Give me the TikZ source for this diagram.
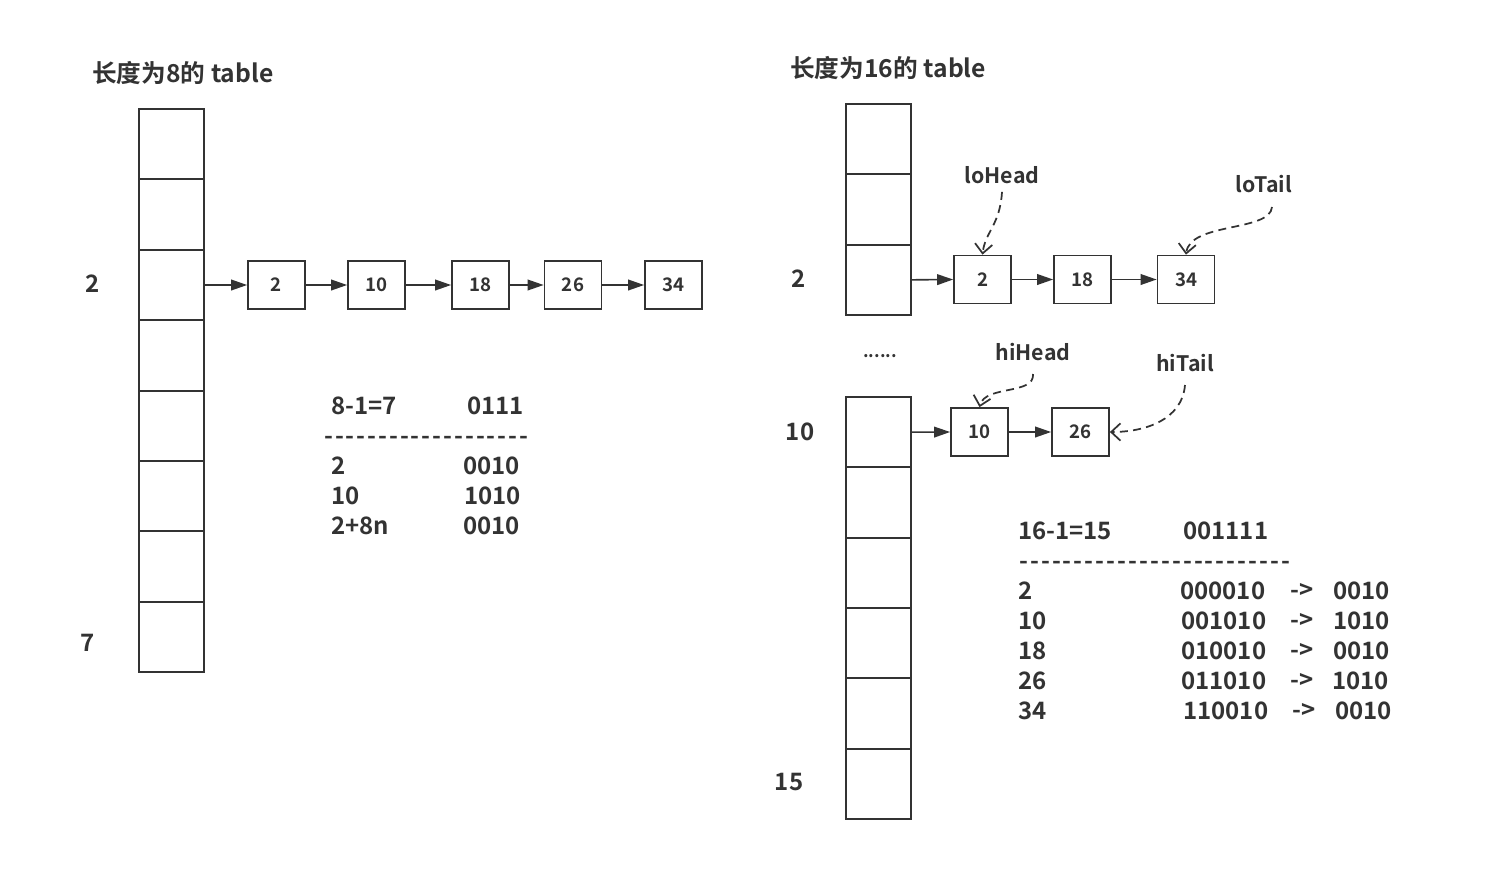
\documentclass[tikz,border=0pt]{standalone}
\usepackage{fontspec}
\setmainfont{Noto Sans CJK SC}[BoldFont={Noto Sans CJK SC Bold}]
\usetikzlibrary{arrows.meta}
\definecolor{ink}{HTML}{333333}
\newcommand\hyrule[2]{\hbox to #1{\cleaders\hbox to #2{\hss-\hss}\hfil}}
\begin{document}
\begin{tikzpicture}[x=0.75pt,y=-0.75pt,
  every node/.style={text=ink,font=\bfseries},
  cell/.style={draw=ink,line width=1.4pt,minimum width=48.75pt,minimum height=52.8pt,inner sep=0pt},
  item/.style={draw=ink,line width=1.3pt,minimum width=42.75pt,minimum height=36pt,inner sep=0pt,font=\bfseries\fontsize{14}{16}\selectfont},
  link/.style={draw=ink,line width=1.2pt,-{Triangle[length=12pt,width=8pt]}},
  ptr/.style={draw=ink,line width=1.3pt,dash pattern=on 6pt off 4pt,-{Straight Barb[length=7pt,width=13pt]}},
  lbl/.style={inner sep=0pt,font=\bfseries\fontsize{18}{22}\selectfont},
  txt/.style={anchor=west,inner sep=0pt,font=\bfseries\fontsize{18}{22}\selectfont},
  ttl/.style={anchor=west,inner sep=0pt,font=\bfseries\fontsize{18.5}{22}\selectfont},
  ann/.style={inner sep=0pt,font=\bfseries\fontsize{16}{19}\selectfont}]
\useasboundingbox (0,0) rectangle (1498,882);
\fill[white] (0,0) rectangle (1498,882);

% ---------- left: table of length 8 ----------
\node[ttl] (t8) at (92,73) {长度为8的 table};
\foreach \i in {0,...,7}{
  \node[cell] (L\i) at (171.5,{109+70.4*(\i+0.5)}) {};
}
\node[lbl] (l2) at (93,284) {2};
\node[lbl] (l7) at (88,643) {7};

\node[item] (a2)  at (276.5,285) {2};
\node[item] (a10) at (376.5,285) {10};
\node[item] (a18) at (480.5,285) {18};
\node[item] (a26) at (573,285) {26};
\node[item] (a34) at (673.5,285) {34};
\draw[link] (L2.east) -- (a2.west);
\draw[link] (a2.east) -- (a10.west);
\draw[link] (a10.east) -- (a18.west);
\draw[link] (a18.east) -- (a26.west);
\draw[link] (a26.east) -- (a34.west);

\node[txt] (m1) at (331,406) {8-1=7};
\node[txt] (m2) at (467,406) {0111};
\node[txt] (m3) at (323,440) {\hyrule{154.5pt}{8.13pt}};
\node[txt] (r1a) at (331,466) {2};
\node[txt] (r1b) at (463,466) {0010};
\node[txt] (r2a) at (331,496) {10};
\node[txt] (r2b) at (464,496) {1010};
\node[txt] (r3a) at (331,526) {2+8n};
\node[txt] (r3b) at (463,526) {0010};

% ---------- right: table of length 16 ----------
\node[ttl] (t16) at (790,68) {长度为16的 table};
\foreach \i in {0,1,2}{
  \node[cell,minimum height=52.75pt] (R\i) at (878.5,{104+70.33*(\i+0.5)}) {};
}
\foreach \i in {0,...,5}{
  \node[cell,minimum height=52.75pt] (S\i) at (878.5,{397+70.33*(\i+0.5)}) {};
}
\node[inner sep=0pt,font=\bfseries\fontsize{13}{15}\selectfont] (dots) at (880,356) {......};
\node[lbl] (rl2) at (799,279) {2};
\node[lbl] (rl10) at (800,432) {10};
\node[lbl] (rl15) at (789,782) {15};

\node[item] (b2)  at (982.5,279.5) {2};
\node[item] (b18) at (1082.5,279.5) {18};
\node[item] (b34) at (1186,279.5) {34};
\node[item] (b10) at (979.5,432) {10};
\node[item] (b26) at (1080.5,432) {26};
\draw[link] (R2.east) -- (b2.west);
\draw[link] (b2.east) -- (b18.west);
\draw[link] (b18.east) -- (b34.west);
\draw[link] (S0.east) -- (b10.west);
\draw[link] (b10.east) -- (b26.west);

\node[ann] (loH) at (1002,175) {loHead};
\node[ann] (loT) at (1264,184) {loTail};
\node[ann] (hiH) at (1033,352) {hiHead};
\node[ann] (hiT) at (1185,363) {hiTail};
\draw[ptr] (loH.south) ++(0,8) coordinate (p1) (p1) .. controls (1000,225) and (985,232) .. (b2.north);
\draw[ptr] (1272,207) coordinate (p2) (p2) .. controls (1270,232) and (1190,222) .. (b34.north);
\draw[ptr] (1033,374) coordinate (p3) (p3) .. controls (1035,395) and (985,385) .. (b10.north);
\draw[ptr] (1185,385) coordinate (p4) (p4) .. controls (1182,420) and (1145,432) .. (b26.east);

\node[txt] (n0a) at (1018,531) {16-1=15};
\node[txt] (n0b) at (1183,531) {001111};
\node[txt] (n0c) at (1018,565) {\hyrule{204.75pt}{8.19pt}};
\node[txt] (n1a) at (1018,591) {2};
\node[txt] (n1b) at (1180,591) {000010};
\node[txt] (n1c) at (1290,591) {->};
\node[txt] (n1d) at (1333,591) {0010};
\node[txt] (n2a) at (1018,621) {10};
\node[txt] (n2b) at (1181,621) {001010};
\node[txt] (n2c) at (1290,621) {->};
\node[txt] (n2d) at (1333,621) {1010};
\node[txt] (n3a) at (1018,651) {18};
\node[txt] (n3b) at (1181,651) {010010};
\node[txt] (n3c) at (1290,651) {->};
\node[txt] (n3d) at (1333,651) {0010};
\node[txt] (n4a) at (1018,681) {26};
\node[txt] (n4b) at (1181,681) {011010};
\node[txt] (n4c) at (1290,681) {->};
\node[txt] (n4d) at (1332,681) {1010};
\node[txt] (n5a) at (1018,711) {34};
\node[txt] (n5b) at (1183,711) {110010};
\node[txt] (n5c) at (1292,711) {->};
\node[txt] (n5d) at (1335,711) {0010};
\end{tikzpicture}
\end{document}
